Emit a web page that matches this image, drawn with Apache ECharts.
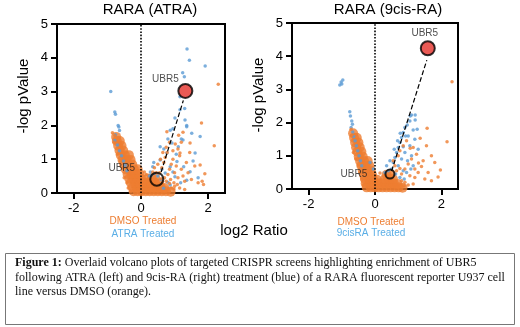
<!DOCTYPE html>
<html>
<head>
<meta charset="utf-8">
<script src="https://cdn.jsdelivr.net/npm/echarts@6/dist/echarts.min.js"></script>
<style>
  html, body { margin: 0; padding: 0; background: #fff; }
  #chart { width: 520px; height: 327px; }
</style>
</head>
<body>
<div id="chart"></div>
<script>
// ---- data (log2 ratio, -log pValue) ----
var xTicks = [-2, 0, 2];

// ATRA panel: dense DMSO cloud, sparse DMSO, ATRA treated
var atraCore = [
  [-0.22,0.05],[-0.1,0.05],[0.02,0.05],[0.14,0.05],[0.26,0.05],[0.38,0.05],[0.5,0.05],[0.62,0.05],[0.74,0.05],[0.88,0.04],
  [-0.25,0.17],[-0.13,0.17],[-0.01,0.17],[0.11,0.17],[0.23,0.17],[0.35,0.17],[0.47,0.17],[0.59,0.17],[0.7,0.15],
  [-0.3,0.3],[-0.18,0.3],[-0.06,0.3],[0.06,0.3],[0.18,0.3],[0.3,0.3],[0.42,0.3],[0.54,0.28],
  [-0.35,0.43],[-0.23,0.43],[-0.11,0.43],[0,0.43],[0.2,0.43],[0.32,0.44],[0.42,0.46],
  [-0.4,0.56],[-0.28,0.56],[-0.16,0.56],[-0.05,0.56],
  [-0.45,0.7],[-0.33,0.7],[-0.21,0.7],[-0.1,0.7],
  [-0.5,0.84],[-0.38,0.84],[-0.26,0.84],
  [-0.55,0.98],[-0.43,0.98],[-0.31,0.98],
  [-0.6,1.12],[-0.48,1.12],[-0.36,1.12],
  [-0.64,1.26],[-0.53,1.26],
  [-0.68,1.4],[-0.58,1.4],
  [-0.72,1.54],[-0.63,1.54],
  [-0.74,1.66]
];
var atraDmso = [
  [0.55,0.6],[0.62,0.75],[0.68,0.9],[0.72,1.05],[0.78,1.2],[0.8,0.55],[0.85,0.7],[0.9,0.85],[0.95,1.0],[1.0,0.6],
  [1.05,0.8],[1.1,0.45],[1.15,1.1],[1.2,0.7],[1.25,0.5],[0.7,0.45],[0.88,0.4],[0.98,0.3],[1.08,0.25],[1.3,0.35],
  [1.35,0.9],[0.65,1.2],[0.75,1.35],[0.85,1.5],[0.95,1.25],[1.02,1.45],[1.1,1.3],[1.2,1.5],[0.58,1.0],[0.5,0.85],
  [1.4,0.6],[1.45,1.2],[1.5,0.4],[1.6,0.8],[1.7,0.3],[1.82,0.35],[1.9,0.57],[1.86,0.25],[2.18,1.4],[2.3,3.22],
  [1.8,2.07],[0.77,1.81],[1.12,1.71],[1.46,1.48],[1.16,1.18],[1.76,0.83],[1.25,1.8],[0.98,0.12],[1.15,0.15],[1.3,0.1],
  [0.45,0.6],[0.4,0.75],[0.35,0.62],[-0.8,1.5],[-0.78,1.7],[-0.5,0.45],[-0.42,0.3],[-0.38,0.15],[-0.85,1.78],[-0.3,0.05],
  [0.9,0.15],[1.0,0.2],[0.85,0.28],[0.75,0.35],[0.6,0.42],[0.15,0.55],[0.1,0.62],[-0.55,0.75],[-0.62,0.95],[-0.7,1.15]
];
var atraTreated = [
  [1.37,4.26],[1.44,3.93],[1.91,3.76],[1.24,3.56],[1.29,3.44],[-0.9,3.0],[-0.78,2.4],[-0.76,2.33],[-0.68,2.0],[-0.66,1.95],
  [-0.64,1.85],[-0.76,1.72],[-0.78,1.55],[-0.7,1.42],[-0.64,1.25],[-0.58,1.1],[-0.52,0.95],[-0.47,0.82],[-0.42,0.66],
  [1.31,2.16],[1.36,2.0],[1.51,1.77],[1.25,1.57],[0.92,1.48],[0.77,1.18],[0.57,0.98],[1.07,0.93],[0.87,0.78],[1.27,0.78],
  [1.46,0.63],[0.72,0.59],[1.01,0.48],[1.36,0.38],[0.87,0.24],[0.67,0.14],[1.61,1.18],[1.76,1.67],[1.11,1.37],[0.62,0.7],
  [0.57,1.37],[0.87,1.86],[1.01,2.22],[1.16,2.46],[1.2,1.6],[1.36,1.96],[0.68,1.3],[0.8,1.6],[0.95,1.9],[1.16,2.85],
  [1.3,2.5],[0.5,0.5],[0.4,0.58],[0.3,0.52],[0.95,0.62],[1.05,1.15],[1.55,0.95],[1.7,0.45],[0.8,0.32],[0.6,0.4],
  [1.18,0.3],[0.28,0.62],[0.35,0.78],[0.38,0.9],[0.25,0.5]
];
var atraUbr5 = [[0.47,0.41],[1.32,3.02]];   // DMSO position, ATRA position
var atraArrow = [[0.6,0.62],[1.26,2.74]];

// 9cis-RA panel
var cisCore = [
  [-0.25,0.05],[-0.13,0.05],[-0.01,0.05],[0.11,0.05],[0.23,0.05],[0.35,0.05],[0.47,0.05],[0.59,0.05],[0.71,0.05],[0.83,0.04],
  [-0.28,0.17],[-0.16,0.17],[-0.04,0.17],[0.08,0.17],[0.2,0.17],[0.32,0.17],[0.44,0.17],[0.56,0.17],[0.68,0.15],
  [-0.3,0.3],[-0.18,0.3],[-0.06,0.3],[0.06,0.28],[0.3,0.3],[0.42,0.3],[0.54,0.3],
  [-0.33,0.43],[-0.21,0.43],[-0.09,0.43],[0.35,0.43],[0.47,0.45],
  [-0.37,0.56],[-0.25,0.56],[-0.13,0.56],
  [-0.41,0.7],[-0.29,0.7],[-0.17,0.7],
  [-0.45,0.84],[-0.33,0.84],[-0.22,0.84],
  [-0.49,0.98],[-0.37,0.98],
  [-0.53,1.12],[-0.41,1.12],
  [-0.57,1.26],[-0.46,1.26],
  [-0.6,1.4],[-0.5,1.4],
  [-0.63,1.54],[-0.55,1.54],
  [-0.66,1.68]
];
var cisDmso = [
  [1.57,1.83],[2.32,3.23],[2.17,1.42],[1.97,0.57],[1.9,0.36],[1.31,0.78],[1.4,0.68],[1.2,0.6],[1.36,1.53],[1.06,1.23],
  [1.3,0.5],[1.45,0.85],[1.1,0.9],[1.0,0.75],[0.9,0.6],[0.8,0.45],[0.7,1.0],[0.75,1.15],[0.85,1.3],[1.15,1.25],
  [1.2,0.35],[1.5,0.3],[1.6,0.5],[1.7,1.0],[1.55,1.3],[0.95,1.45],[1.05,0.4],[0.65,0.55],[1.7,0.25],[1.8,0.8],
  [0.6,0.7],[0.55,0.85],[0.9,0.2],[1.0,0.12],[1.15,0.15],[0.75,0.62],[1.25,1.05],[-0.72,1.8],[-0.7,1.62],[-0.45,0.5],
  [-0.4,0.3],[-0.35,0.12],[0.88,0.1],[0.8,0.25],[0.15,0.48],[-0.5,0.7],[-0.58,0.9],[-0.65,1.1]
];
var cisTreated = [
  [-1.06,3.13],[-1.02,3.22],[-0.97,3.28],[-1.0,3.16],[-0.76,2.33],[-0.74,2.2],[-0.7,2.05],[-0.68,1.95],[-0.72,1.85],[-0.67,1.72],
  [-0.64,1.58],[-0.6,1.45],[-0.56,1.3],[-0.52,1.15],[-0.48,1.0],[-0.44,0.85],[-0.4,0.7],
  [0.5,0.6],[0.55,0.8],[0.6,0.95],[0.65,1.1],[0.7,1.25],[0.75,1.4],[0.8,1.55],[0.85,1.7],[0.9,1.85],
  [0.97,1.93],[1.1,2.23],[1.21,2.23],[1.06,2.2],[1.21,2.08],[1.15,1.78],[0.76,1.68],[0.85,1.27],[1.0,1.6],[1.05,1.3],
  [0.9,1.1],[0.8,0.9],[0.7,0.7],[1.1,1.0],[1.2,1.5],[0.95,0.5],[1.15,0.7],[1.27,1.8],[1.05,2.05],[0.62,0.45],
  [0.75,0.35],[0.85,0.55],[1.3,1.2],[0.4,0.55],[0.3,0.5],[0.58,1.2],[0.68,1.45],[0.92,1.6],[0.98,0.85],[1.08,0.6],
  [0.88,0.3],[0.35,0.7],[0.45,0.85],[-0.05,0.6],[-0.15,0.8]
];
var cisUbr5 = [[0.45,0.45],[1.59,4.24]];
var cisArrow = [[0.5,0.54],[1.56,3.88]];

var ORANGE = '#ED7D31', BLUE = '#5B9BD5';
var FONT = 'Liberation Sans, Arial, sans-serif';
var SERIF = 'Liberation Serif, Times New Roman, serif';

function makeAxes(g) {
  var line = { show: true, onZero: false, lineStyle: { color: '#000', width: 2 } };
  var tick = { show: true, length: 6, lineStyle: { color: '#000', width: 2 } };
  var lab = { color: '#000', fontSize: 13, fontFamily: FONT, margin: 9 };
  return {
    x: {
      gridIndex: g, type: 'value', min: -2.5, max: 2.5,
      axisLine: line,
      axisTick: Object.assign({ customValues: xTicks }, tick),
      axisLabel: Object.assign({ customValues: xTicks }, lab),
      splitLine: { show: false }
    },
    y: {
      gridIndex: g, type: 'value', min: 0, max: 5, interval: 1,
      axisLine: line, axisTick: tick, axisLabel: lab,
      splitLine: { show: false }
    }
  };
}

function panelSeries(g, core, dmso, treated, ubr5, arrow, lowOff, highOff, lowSize) {
  return [
    {
      type: 'scatter', xAxisIndex: g, yAxisIndex: g, data: core,
      symbolSize: 10, itemStyle: { color: ORANGE }, silent: true,
      markLine: {
        silent: true, symbol: ['none', 'none'], label: { show: false },
        lineStyle: { color: '#000', type: 'dotted', width: 1.6 },
        data: [{ xAxis: 0 }]
      }
    },
    { type: 'scatter', xAxisIndex: g, yAxisIndex: g, data: treated, symbolSize: 3.5, itemStyle: { color: BLUE } },
    { type: 'scatter', xAxisIndex: g, yAxisIndex: g, data: dmso, symbolSize: 3.5, itemStyle: { color: ORANGE } },
    {
      type: 'scatter', xAxisIndex: g, yAxisIndex: g, data: [ubr5[0]], symbolSize: lowSize,
      itemStyle: { color: 'rgba(0,0,0,0)', borderColor: '#000', borderWidth: 2 },
      label: { show: true, formatter: 'UBR5', position: 'inside', offset: lowOff, fontSize: 10, fontFamily: FONT, color: '#222' },
      markLine: {
        silent: true, symbol: ['none', 'arrow'], symbolSize: [0, 7], label: { show: false },
        lineStyle: { color: '#000', type: 'dashed', width: 1.2 },
        data: [[{ coord: arrow[0] }, { coord: arrow[1] }]]
      }
    },
    {
      type: 'scatter', xAxisIndex: g, yAxisIndex: g, data: [ubr5[1]], symbolSize: 14,
      itemStyle: { color: '#E5312B', borderColor: '#000', borderWidth: 2 },
      label: { show: true, formatter: 'UBR5', position: 'inside', offset: highOff, fontSize: 10, fontFamily: FONT, color: '#222' }
    }
  ];
}

var a0 = makeAxes(0), a1 = makeAxes(1);
var chart = echarts.init(document.getElementById('chart'));
chart.setOption({
  animation: false,
  backgroundColor: '#fff',
  grid: [
    { left: 57, top: 24, width: 168, height: 169, show: true, borderColor: '#000', borderWidth: 2 },
    { left: 292, top: 23, width: 166, height: 166, show: true, borderColor: '#000', borderWidth: 2 }
  ],
  xAxis: [a0.x, a1.x],
  yAxis: [a0.y, a1.y],
  series: panelSeries(0, atraCore, atraDmso, atraTreated, atraUbr5, atraArrow, [-35, -11], [-20, -12], 13)
    .concat(panelSeries(1, cisCore, cisDmso, cisTreated, cisUbr5, cisArrow, [-36, 0], [-3, -15], 9)),
  graphic: [
    { type: 'text', style: { text: 'RARA (ATRA)', x: 150, y: 10, align: 'center', verticalAlign: 'middle', font: '15px ' + FONT, fill: '#000' } },
    { type: 'text', style: { text: 'RARA (9cis-RA)', x: 388, y: 10, align: 'center', verticalAlign: 'middle', font: '15px ' + FONT, fill: '#000' } },
    { type: 'text', x: 24, y: 96, rotation: Math.PI / 2, style: { text: '-log pValue', x: 0, y: 0, align: 'center', verticalAlign: 'middle', font: '15px ' + FONT, fill: '#000' } },
    { type: 'text', x: 259, y: 95, rotation: Math.PI / 2, style: { text: '-log pValue', x: 0, y: 0, align: 'center', verticalAlign: 'middle', font: '15px ' + FONT, fill: '#000' } },
    { type: 'text', style: { text: 'log2 Ratio', x: 254, y: 231, align: 'center', verticalAlign: 'middle', font: '15px ' + FONT, fill: '#000' } },
    { type: 'text', style: { text: 'DMSO Treated', x: 143, y: 221, align: 'center', verticalAlign: 'middle', font: '10px ' + FONT, fill: ORANGE } },
    { type: 'text', style: { text: 'ATRA Treated', x: 143, y: 234, align: 'center', verticalAlign: 'middle', font: '10px ' + FONT, fill: '#5AAEE6' } },
    { type: 'text', style: { text: 'DMSO Treated', x: 371, y: 222, align: 'center', verticalAlign: 'middle', font: '10px ' + FONT, fill: ORANGE } },
    { type: 'text', style: { text: '9cisRA Treated', x: 371, y: 233, align: 'center', verticalAlign: 'middle', font: '10px ' + FONT, fill: '#5AAEE6' } },
    { type: 'rect', shape: { x: 5.5, y: 253.5, width: 509, height: 71 }, style: { fill: '#fff', stroke: '#777', lineWidth: 1 } },
    {
      type: 'text',
      style: {
        x: 15, y: 256,
        text: '{b|Figure 1:} Overlaid volcano plots of targeted CRISPR screens highlighting enrichment of UBR5\nfollowing ATRA (left) and 9cis-RA (right) treatment (blue) of a RARA fluorescent reporter U937 cell\nline versus DMSO (orange).',
        fontFamily: SERIF, fontSize: 12, fill: '#111', lineHeight: 14.5,
        rich: { b: { fontFamily: SERIF, fontSize: 12, fontWeight: 'bold', fill: '#111', lineHeight: 14.5 } }
      }
    }
  ]
});
</script>
</body>
</html>
